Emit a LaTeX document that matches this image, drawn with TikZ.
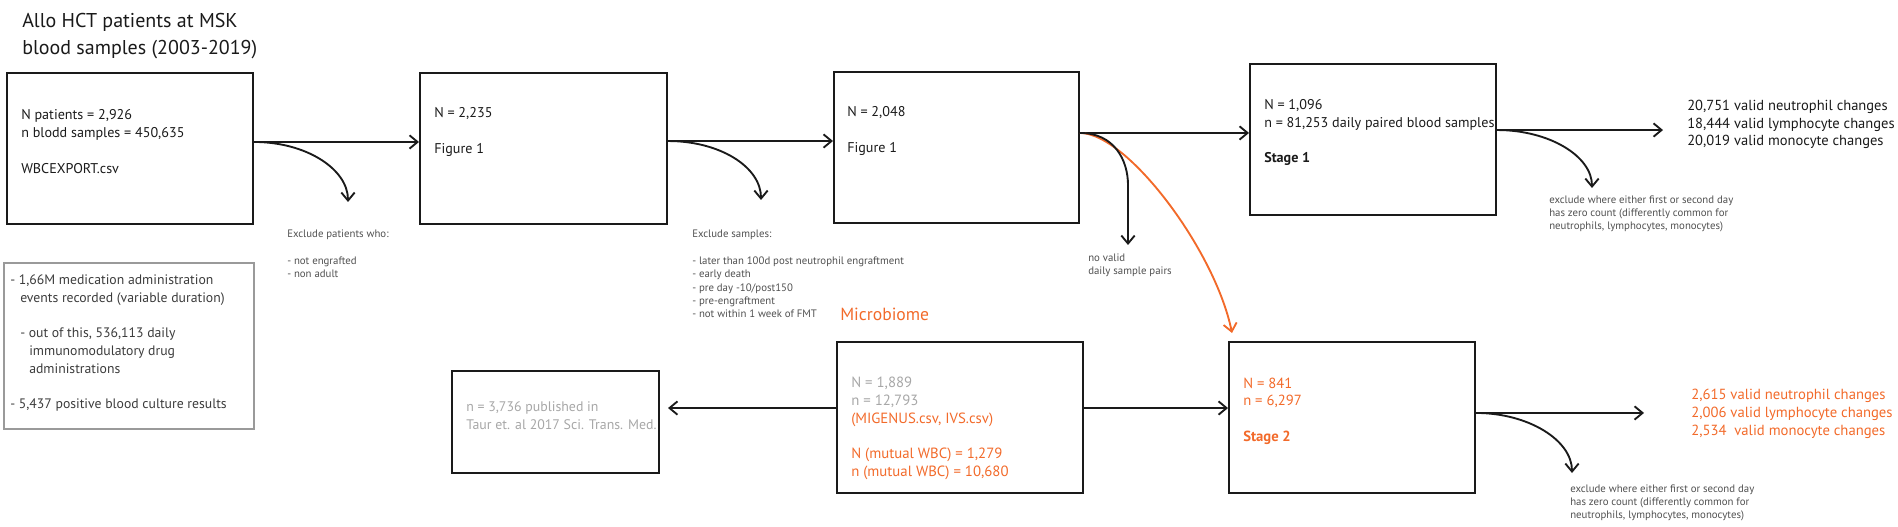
\documentclass[tikz,border=0pt]{standalone}
\usepackage{fontspec}
\setmainfont{PT Sans}
\usetikzlibrary{arrows.meta,fit,calc}
\definecolor{orng}{HTML}{F26A2A}
\definecolor{lgray}{HTML}{A7A7A7}
\definecolor{dgray}{HTML}{505050}
\definecolor{ink}{HTML}{1A1A1A}
\definecolor{leggray}{HTML}{9A9A9A}
\begin{document}
\begin{tikzpicture}[x=0.75pt,y=-0.75pt,
  box/.style={draw=ink, line width=1.5pt, inner sep=0pt},
  legbox/.style={draw=leggray, line width=1.5pt, inner sep=0pt},
  main/.style={font=\fontsize{#1}{13.3}\selectfont, text=ink, align=left, anchor=west, inner sep=0pt},
  main/.default=10.6,
  small/.style={font=\fontsize{8.1}{10}\selectfont, text=dgray, align=left, anchor=west, inner sep=0pt},
  titletext/.style={font=\fontsize{15}{20.25}\selectfont, text=ink, align=left, anchor=west, inner sep=0pt},
  arr/.style={-{Straight Barb[length=6pt,width=10pt]}, line width=1.4pt, draw=ink},
  oarr/.style={-{Straight Barb[length=6pt,width=10pt]}, line width=1.4pt, draw=orng}]
\useasboundingbox (0,0) rectangle (1898,527);

% title
\node[titletext] (title) at (22,36.5) {Allo HCT patients at MSK\\blood samples (2003-2019)};

% boxes
\node[box, fit={(7,73) (253,224)}] (b1) {};
\node[box, fit={(420,73) (667,224)}] (b2) {};
\node[box, fit={(834,72) (1079,223)}] (b3) {};
\node[box, fit={(1250,64) (1496,215)}] (b4) {};
\node[box, fit={(452,371) (659,473)}] (b6) {};
\node[box, fit={(837,342) (1083,493)}] (b7) {};
\node[box, fit={(1229,342) (1475,493)}] (b5) {};
\node[legbox, fit={(4,263) (254,429)}] (leg) {};

% box texts
\node[main=10.6] (t1) at (21,141.5) {N patients = 2,926\\n blodd samples = 450,635\\[13.3pt]WBCEXPORT.csv};
\node[main=10.6] (t2) at (434,132) {N = 2,235\\[13.3pt]Figure 1};
\node[main=10.6] (t3) at (847,131) {N = 2,048\\[13.3pt]Figure 1};
\node[main=10.6] (t4) at (1264,132.5) {N = 1,096\\n = 81,253 daily paired blood samples,\\[13.3pt]\textbf{Stage 1}};
\node[main=10.9] (r1) at (1687,124.5) {20,751 valid neutrophil changes\\18,444 valid lymphocyte changes\\20,019 valid monocyte changes};
\node[main=10.4, text=lgray] (t6) at (466,416) {n = 3,736 published in\\Taur et. al 2017 Sci. Trans. Med.};
\node[main=11.1] (t7) at (851,428.5) {\textcolor{lgray}{N = 1,889}\\\textcolor{lgray}{n = 12,793}\\\textcolor{orng}{(MIGENUS.csv, IVS.csv)}\\[13.3pt]\textcolor{orng}{N (mutual WBC) = 1,279}\\\textcolor{orng}{n (mutual WBC) = 10,680}};
\node[main=11, text=orng] (t5) at (1243,411) {N = 841\\n = 6,297\\[13.3pt]\textbf{Stage 2}};
\node[main=11, text=orng] (r2) at (1691,414) {2,615 valid neutrophil changes\\2,006 valid lymphocyte changes\\2,534\ \ valid monocyte changes};
\node[main=10.3, text=ink!85] (tleg) at (10,343) {- 1,66M medication administration\\\hspace*{7.5pt}events recorded (variable duration)\\[13.3pt]\hspace*{7.5pt}- out of this, 536,113 daily\\\hspace*{14.25pt}immunomodulatory drug\\\hspace*{14.25pt}administrations\\[13.3pt]- 5,437 positive blood culture results};
\node[anchor=west, inner sep=0pt, text=orng, font=\fontsize{13.2}{16}\selectfont] (mic) at (840,314) {Microbiome};

% small notes
\node[small] (ex1) at (287,254) {Exclude patients who:\\[10pt]- not engrafted\\- non adult};
\node[small] (ex2) at (692,274) {Exclude samples:\\[10pt]- later than 100d post neutrophil engraftment\\- early death\\- pre day -10/post150\\- pre-engraftment\\- not within 1 week of FMT};
\node[small] (ex3) at (1088,265.5) {no valid\\daily sample pairs};
\node[small] (ex4) at (1549,214) {exclude where either first or second day\\has zero count (differently common for\\neutrophils, lymphocytes, monocytes)};
\node[small] (ex5) at (1570,503) {exclude where either first or second day\\has zero count (differently common for\\neutrophils, lymphocytes, monocytes)};

% connector anchor points
\coordinate (o1) at ([yshift=4.9pt]b1.east);
\coordinate (o2) at ([yshift=5.6pt]b2.east);
\coordinate (o3) at ([yshift=10.9pt]b3.east);
\coordinate (o4) at ([yshift=7.1pt]b4.east);
\coordinate (o7l) at ([yshift=7.1pt]b7.west);
\coordinate (o7r) at ([yshift=7.1pt]b7.east);
\coordinate (o5) at ([yshift=3.4pt]b5.east);
\coordinate (f4) at (1663,130);
\coordinate (f5) at (1644,413);
\coordinate (e1) at (348,202);
\coordinate (e2) at (761,200);
\coordinate (k3) at (1128,185);
\coordinate (e3) at (1128,245);
\coordinate (e4) at (1232,333);
\coordinate (e5) at (1592,188);
\coordinate (e6) at (1572,473);

% main flow
\draw[arr] (o1) -- (b2.west |- o1);
\draw[arr] (o2) -- (b3.west |- o2);
\draw[arr] (o3) -- (b4.west |- o3);
\draw[arr] (o4) -- (f4 |- o4);
\draw[arr, shorten >=6pt] (o7l) -- (b6.east |- o7l);
\draw[arr] (o7r) -- (b5.west |- o7r);
\draw[arr] (o5) -- (f5 |- o5);

% exclusions
\draw[arr] (o1) .. controls +(52,0) and +(0,-33) .. (e1);
\draw[arr] (o2) .. controls +(52,0) and +(0,-33) .. (e2);
\draw[oarr] (o3) .. controls +(47,0) and +(-17,-83) .. (e4);
\draw[arr] (o3) .. controls +(34,0) and +(0,-25) .. (k3) -- (e3);
\draw[arr] (o4) .. controls +(52,0) and +(0,-32) .. (e5);
\draw[arr] (o5) .. controls +(52,0) and +(0,-33) .. (e6);
\end{tikzpicture}
\end{document}
